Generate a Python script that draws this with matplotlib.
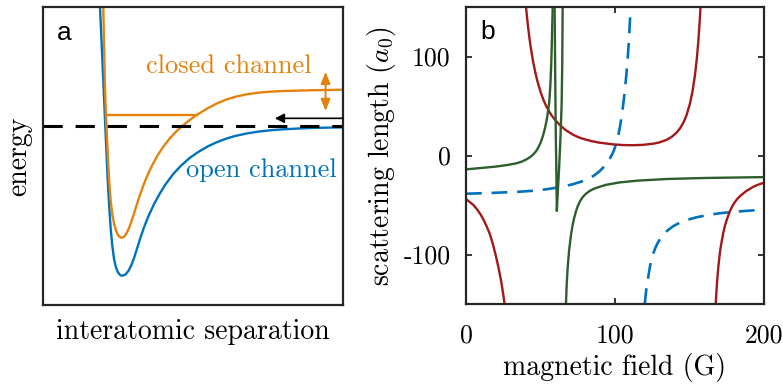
import matplotlib
matplotlib.use('Agg')
import matplotlib.pyplot as plt

plt.rcParams['font.family'] = 'cmr10'
plt.rcParams['mathtext.fontset'] = 'cm'
plt.rcParams['axes.unicode_minus'] = False
plt.rcParams['axes.formatter.use_mathtext'] = True

# ---- panel a: model potentials (arbitrary units) ----
sep_open = [1.88, 1.90, 1.97, 2.04, 2.10, 2.157, 2.21, 2.257, 2.31, 2.367, 2.43, 2.49, 2.55,
            2.60, 2.65, 2.75, 2.85, 2.95, 3.05, 3.15, 3.25, 3.35, 3.5, 3.7, 3.9, 4.1, 4.35,
            4.6, 4.9, 5.2, 5.5, 5.8, 6.1, 6.4, 6.8, 7.2, 7.6, 8.0, 8.5, 9.0, 10.0]
energy_open = [13.25, 11.9, 7.2, 2.45, -1.6, -5.43, -8.2, -10.3, -12.0, -13.3, -14.15, -14.6,
               -14.87, -14.98, -15.0, -14.875, -14.51, -13.92, -13.1, -12.15, -11.2, -10.3,
               -9.15, -7.85, -6.75, -5.8, -4.8, -4.0, -3.2, -2.58, -2.06, -1.64, -1.3, -1.03,
               -0.77, -0.58, -0.45, -0.36, -0.28, -0.22, -0.16]
sep_closed = [1.99, 2.01, 2.035, 2.06, 2.08, 2.10, 2.135, 2.172, 2.205, 2.25, 2.31, 2.37, 2.43,
              2.49, 2.55, 2.60, 2.64, 2.70, 2.76, 2.82, 2.90, 3.00, 3.10, 3.23, 3.35, 3.46,
              3.57, 3.70, 3.85, 4.01, 4.20, 4.40, 4.60, 4.65, 4.90, 5.15, 5.50, 5.80, 6.10,
              6.40, 6.80, 7.20, 7.60, 8.00, 9.00, 10.0]
energy_closed = [15.0, 11.9, 8.1, 4.6, 2.6, 1.07, -1.3, -3.6, -5.5, -7.3, -8.85, -9.8, -10.45,
                 -10.87, -11.1, -11.18, -11.2, -11.1, -10.88, -10.55, -9.98, -9.1, -8.15,
                 -6.95, -5.95, -5.12, -4.39, -3.62, -2.83, -2.1, -1.36, -0.70, -0.14, 0.0,
                 0.59, 1.125, 1.76, 2.23, 2.6, 2.89, 3.15, 3.31, 3.41, 3.47, 3.55, 3.6]
bound_sep = [2.10, 5.12]
bound_energy = [1.07, 1.07]
threshold = 0.0

# ---- panel b: scattering length vs field ----
red_B1 = [0, 5, 7.5, 10, 12, 14, 15.7, 17, 18.5, 20, 21, 22, 23.5, 25, 26]
red_a1 = [-44, -50, -54.5, -60, -65.5, -72, -78, -84, -92, -101, -107.5, -114.5, -126, -140,
          -151]
red_B2 = [40.3, 41.5, 42.5, 43.5, 45, 46.5, 48, 50, 52, 53.7, 55.5, 57.5, 60, 63, 67, 72,
          76, 80, 85, 90, 98.5, 105, 112, 119, 126, 130, 134.7, 138, 141, 143.6, 146, 148,
          150.3, 152, 153.7, 155, 155.9, 156.8, 157.5]
red_a2 = [150, 132.3, 119.8, 109, 95.4, 84.2, 74.8, 64.5, 56.2, 50.4, 45.3, 40.5, 35.6, 30.8,
          25.6, 20.9, 18.2, 16.2, 14.3, 12.9, 11.3, 10.6, 10.4, 10.8, 12.0, 13.3, 15.9, 18.8,
          22.6, 27.3, 33.4, 40.6, 52.3, 64.5, 81.3, 98.9, 114.6, 134.2, 152.4]
red_B3 = [167.6, 168.5, 169.4, 170.2, 171, 172.7, 173.8, 175, 177.2, 178.5, 180, 182, 183.9,
          188, 192.8, 196, 200]
red_a3 = [-150, -128, -112, -101, -92, -78, -71, -65, -56, -52, -48, -44, -41, -36, -31.6,
          -29.5, -27.5]

green_B1 = [0, 10, 20, 28, 34, 38, 41, 43.5, 45.5, 47, 48.5, 50, 51.5, 53, 54.5, 55.9, 56.6,
            57.2, 57.7, 58.2]
green_a1 = [-14, -12.6, -11.2, -9.52, -7.84, -5.84, -3.59, -1.09, 1.61, 4.31, 7.91, 12.7,
            19.0, 27.3, 38.5, 54, 70, 91, 118, 150]
green_B2 = [59.5, 59.9, 60.3, 60.7, 61.0, 61.5, 62.4, 63.2, 63.8, 64.2, 64.6, 64.9]
green_a2 = [150, 80, 20, -20, -56, -40, -16, 10, 35, 51, 90, 150]
green_B3 = [67.1, 67.6, 68.2, 69.2, 70.5, 71.5, 72.5, 73.7, 75, 76.7, 78.5, 80.5, 82.8, 85,
            88, 94, 103, 115, 135, 160, 200]
green_a3 = [-150, -130.75, -114.5, -96, -79.8, -70.9, -63.8, -57.0, -51.2, -45.7, -41.7,
            -38.6, -36.0, -34.2, -32.4, -29.6, -27.2, -25.4, -23.7, -22.7, -21.8]

blue_B1 = [0, 15, 33.6, 45, 53, 60.4, 66, 72, 78.3, 82, 86, 89.5, 92, 94.5, 96.5, 98.4, 99.5,
           100.8, 102.2, 103.4, 104.5, 105.6, 106.7, 107.5, 108.3, 109, 109.6, 110.1, 110.5]
blue_a1 = [-38.6, -37.9, -36.8, -35.6, -34.3, -32.6, -31.0, -28.9, -25.9, -23.6, -20.2,
           -16.1, -12.3, -7.8, -3.3, 2.1, 6.1, 11.9, 20.2, 29.4, 39.7, 52.1, 66.8, 79.2,
           93.4, 107.9, 122.8, 137.8, 152.8]
blue_B2 = [120.0, 121, 122.4, 123.5, 124.5, 125.7, 127, 128.5, 130.5, 132.4, 135.5, 139.1,
           143.5, 148.1, 155, 163.8, 171, 179.4, 190, 200]
blue_a2 = [-150, -135.5, -122, -112, -105.2, -99, -93.7, -88.8, -83.8, -80.0, -75.4, -71.4,
           -67.9, -65.2, -62.3, -59.7, -58.2, -56.9, -55.7, -54.8]

field_ticks = [0, 100, 200]
field_labels = ['0', '100', '200']
length_ticks = [-100, 0, 100]
length_labels = ['-100', '0', '100']

c_orange = '#E5820E'
c_blue = '#0072BD'
c_red = '#A31818'
c_green = '#2F5E2D'
c_spine = '#262626'

fig = plt.figure(figsize=(7.83, 3.84), dpi=100)
ax1 = fig.add_axes([0.0549, 0.2057, 0.3831, 0.776])
ax2 = fig.add_axes([0.5951, 0.2083, 0.3806, 0.7734])

# panel a
ax1.plot(sep_open, energy_open, color=c_blue, lw=1.7)
ax1.plot(sep_closed, energy_closed, color=c_orange, lw=1.7)
ax1.plot(bound_sep, bound_energy, color=c_orange, lw=1.7)
ax1.axhline(threshold, color='black', lw=2.2, ls=(0, (6.3, 4.2)))
ax1.annotate('', xy=(7.73, 0.74), xytext=(10.0, 0.74),
             arrowprops=dict(arrowstyle='-|>,head_length=0.55,head_width=0.28',
                             color='black', lw=1.2, shrinkA=0, shrinkB=0))
ax1.annotate('', xy=(9.42, 5.4), xytext=(9.42, 1.47),
             arrowprops=dict(arrowstyle='<|-|>,head_length=0.7,head_width=0.28',
                             color=c_orange, lw=1.4, shrinkA=0, shrinkB=0))
ax1.text(6.19, 5.3, 'closed channel', color=c_orange, fontsize=19, ha='center', va='baseline')
ax1.text(7.27, -5.1, 'open channel', color=c_blue, fontsize=19, ha='center', va='baseline')
ax1.text(0.047, 0.889, 'a', transform=ax1.transAxes, family='Liberation Sans',
         fontsize=19, va='baseline')
ax1.set_xlim(0, 10)
ax1.set_ylim(-17.93, 11.87)
ax1.set_xticks([])
ax1.set_yticks([])
ax1.set_xlabel('interatomic separation', fontsize=20, labelpad=10)
ax1.set_ylabel('energy', fontsize=20, labelpad=8)

# panel b
ax2.plot(blue_B1, blue_a1, color=c_blue, lw=1.9, ls=(0, (6, 3.7)))
ax2.plot(blue_B2, blue_a2, color=c_blue, lw=1.9, ls=(0, (6, 3.7)))
for B, a in [(red_B1, red_a1), (red_B2, red_a2), (red_B3, red_a3)]:
    ax2.plot(B, a, color=c_red, lw=1.7)
for B, a in [(green_B1, green_a1), (green_B2, green_a2), (green_B3, green_a3)]:
    ax2.plot(B, a, color=c_green, lw=1.7)
ax2.text(0.047, 0.891, 'b', transform=ax2.transAxes, family='Liberation Sans',
         fontsize=19, va='baseline')
ax2.set_xlim(0, 200)
ax2.set_ylim(-150, 150)
ax2.set_xticks(field_ticks)
ax2.set_xticklabels(field_labels)
ax2.set_yticks(length_ticks)
ax2.set_yticklabels(length_labels)
ax2.tick_params(direction='in', length=4, width=1.3, top=True, right=True,
                labelsize=18.5, color=c_spine)
ax2.tick_params(axis='x', pad=14)
ax2.tick_params(axis='y', pad=11)
ax2.set_xlabel('magnetic field (G)', fontsize=20, labelpad=4)
ax2.set_ylabel('scattering length ($a_0$)', fontsize=20, labelpad=4)

for ax in (ax1, ax2):
    for s in ax.spines.values():
        s.set_linewidth(1.6)
        s.set_color(c_spine)

fig.savefig('out.png', dpi=100)
